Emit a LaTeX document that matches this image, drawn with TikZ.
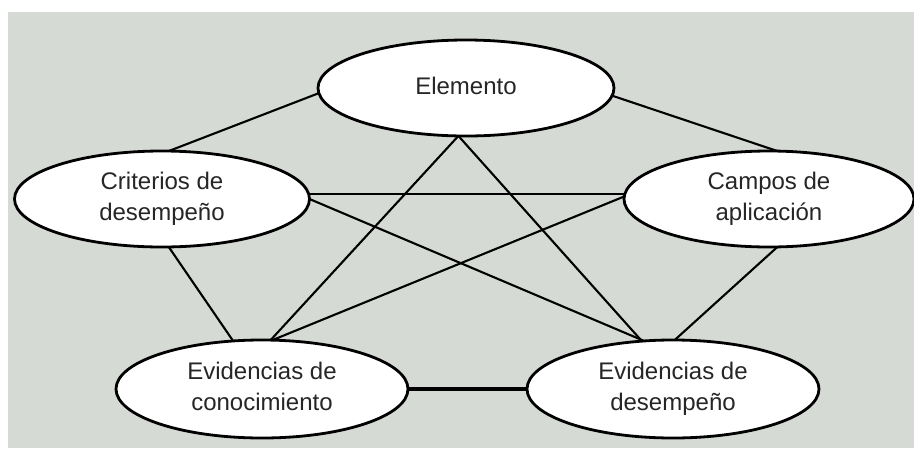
\documentclass[tikz,border=0pt]{standalone}
\usepackage{fontspec}
\setmainfont{Liberation Sans}
\usetikzlibrary{shapes.geometric,backgrounds}
\definecolor{bggray}{RGB}{214,218,212}
\definecolor{txtgray}{RGB}{38,38,38}
\tikzset{
  oval/.style={ellipse, draw=black, line width=2.8pt, fill=white, inner sep=0pt, outer sep=0pt,
    align=center, text=txtgray, font=\fontsize{24}{31}\selectfont},
  link/.style={draw=black, line width=2.1pt},
  thinlink/.style={draw=black, line width=1.6pt},
  thicklink/.style={draw=black, line width=3.2pt}
}
\begin{document}
\begin{tikzpicture}[x=1pt,y=-1pt]
\useasboundingbox (0,0) rectangle (914,448);
% nodes
\node[oval, minimum width=296pt, minimum height=96pt] (el) at (466,88) {\strut Elemento\strut};
\node[oval, minimum width=295pt, minimum height=96pt] (cr) at (162,199) {\strut Criterios de\\desempeño\strut};
\node[oval, minimum width=290pt, minimum height=96pt] (ca) at (769,199) {\strut Campos de\\aplicación\strut};
\node[oval, minimum width=292pt, minimum height=98pt] (ec) at (262,389) {\strut Evidencias de\\conocimiento\strut};
\node[oval, minimum width=292pt, minimum height=98pt] (ed) at (673,389) {\strut Evidencias de\\desempeño\strut};
\begin{scope}[on background layer]
\fill[white] (0,0) rectangle (914,448);
\fill[bggray] (8,12) rectangle (914,448);
% connectors
\draw[link] (el.182) -- (cr.82);
\draw[link] (el.357) -- (ca.80);
\draw[link] (el.261) -- (ec.80);
\draw[link] (el.261) -- (ed.123);
\draw[thinlink] (cr.2.4) -- (cr.2.4 -| ca.center);
\draw[link] (cr.0.5) -- (ed.121);
\draw[link] (ca.179) -- (ec.78);
\draw[link] (cr.278) -- (ec.121);
\draw[link] (ca.280) -- (ed.88);
\draw[thicklink] (ec.0) -- (ed.180);
\end{scope}
\end{tikzpicture}
\end{document}
